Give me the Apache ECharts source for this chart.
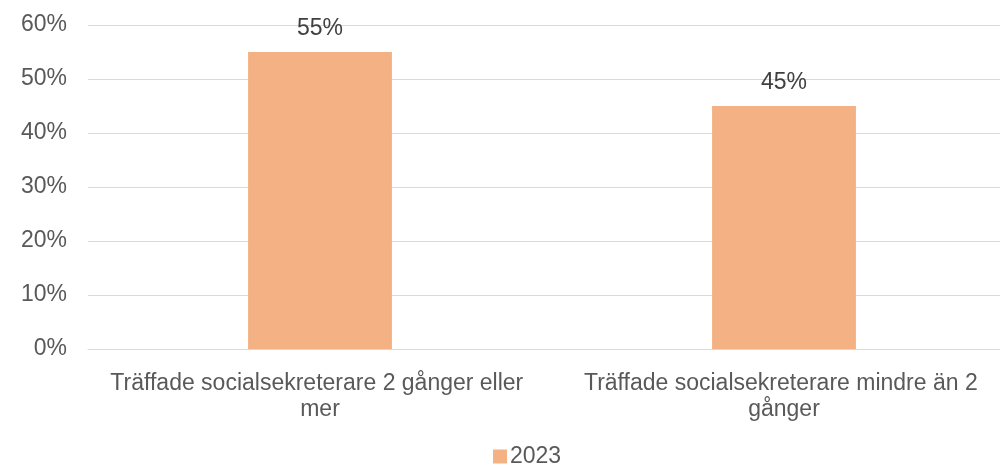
<!DOCTYPE html>
<html>
<head>
<meta charset="utf-8">
<script src="https://cdn.jsdelivr.net/npm/echarts@6/dist/echarts.min.js"></script>
<style>
    html, body { margin: 0; padding: 0; background: #fff; overflow: hidden; }
    #chart { width: 1016px; height: 469px; }
</style>
</head>
<body>
<div id="chart"></div>
<script>
var categories = ['Träffade socialsekreterare 2 gånger eller mer', 'Träffade socialsekreterare mindre än 2 gånger'];
var values2023 = [55, 45];
var seriesName = '2023';

// plot runs a bit past the right edge of the window, like the reference
var myChart = echarts.init(document.getElementById('chart'));
var option = {
    animation: false,
    textStyle: { fontFamily: 'Liberation Sans, Arial, sans-serif' },
    legend: {
        bottom: 1,
        left: 493,
        padding: 0,
        itemWidth: 14,
        itemHeight: 14,
        itemGap: 4,
        icon: 'rect',
        textStyle: { fontSize: 23, color: '#595959', padding: [0, 0, 0, -2] },
        data: [seriesName]
    },
    grid: {
        left: 88,
        right: 0,
        top: 25,
        bottom: 120
    },
    xAxis: {
        type: 'category',
        data: categories,
        axisTick: { show: false },
        axisLine: { lineStyle: { color: '#D9D9D9', width: 1 } },
        axisLabel: {
            fontSize: 23,
            color: '#595959',
            margin: 22,
            lineHeight: 26,
            width: 450,
            overflow: 'break',
            interval: 0
        }
    },
    yAxis: {
        type: 'value',
        min: 0,
        max: 60,
        interval: 10,
        axisLabel: {
            fontSize: 23,
            color: '#595959',
            margin: 21,
            formatter: '{value}%'
        },
        splitLine: { lineStyle: { color: '#D9D9D9', width: 1 } }
    },
    series: [{
        name: seriesName,
        type: 'bar',
        data: values2023,
        barWidth: '31%',
        itemStyle: { color: '#F4B183' },
        label: {
            show: true,
            position: 'top',
            distance: 12,
            fontSize: 23,
            color: '#404040',
            formatter: '{c}%'
        }
    }]
};
myChart.setOption(option);
</script>
</body>
</html>
